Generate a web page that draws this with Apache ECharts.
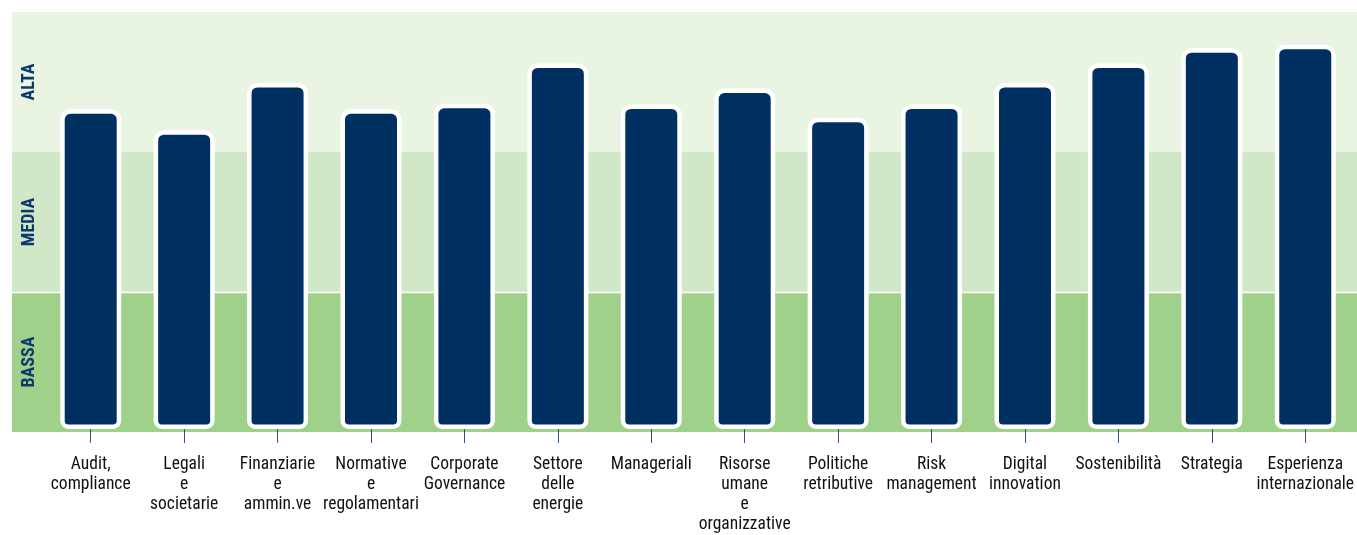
<!DOCTYPE html>
<html>
<head>
<meta charset="utf-8">
<script src="https://cdn.jsdelivr.net/npm/echarts@6/dist/echarts.min.js"></script>
<style>
  html, body { margin: 0; padding: 0; background: #fff; }
  #chart { width: 1357px; height: 535px; }
</style>
</head>
<body>
<div id="chart"></div>
<script>
// categorie (etichette asse x)
const categories = [
  'Audit,\ncompliance',
  'Legali\ne\nsocietarie',
  'Finanziarie\ne\nammin.ve',
  'Normative\ne\nregolamentari',
  'Corporate\nGovernance',
  'Settore\ndelle\nenergie',
  'Manageriali',
  'Risorse\numane\ne\norganizzative',
  'Politiche\nretributive',
  'Risk\nmanagement',
  'Digital\ninnovation',
  'Sostenibilità',
  'Strategia',
  'Esperienza\ninternazionale'
]
// livello (scala 0-3)
const levels = [2.30, 2.15, 2.49, 2.30, 2.34, 2.63, 2.335, 2.45, 2.24, 2.335, 2.49, 2.63, 2.74, 2.765]
// fasce
const bands = ['BASSA', 'MEDIA', 'ALTA']

const labelFont = "'Liberation Sans Narrow', 'Roboto Condensed', 'DejaVu Sans Condensed', sans-serif"

const chart = echarts.init(document.getElementById('chart'))
chart.setOption({
  animation: false,
  grid: [
    // sfondo a fasce
    { left: 12, right: 0, top: 12, bottom: 103 },
    // barre
    { left: 44, right: 3, top: 12, bottom: 100.5 }
  ],
  xAxis: [
    { gridIndex: 0, type: 'value', min: 0, max: 1, show: false },
    {
      gridIndex: 1,
      type: 'category',
      data: categories,
      axisLine: { show: false },
      axisTick: {
        show: true,
        alignWithLabel: true,
        length: 14,
        lineStyle: { color: '#2f5486', width: 1 }
      },
      axisLabel: {
        interval: 0,
        margin: 26,
        fontFamily: labelFont,
        fontSize: 17.5,
        lineHeight: 20,
        color: '#111111'
      }
    }
  ],
  yAxis: [
    {
      gridIndex: 0,
      type: 'category',
      data: bands,
      axisLine: { show: false },
      axisTick: { show: false },
      axisLabel: {
        inside: true,
        rotate: 90,
        margin: 8,
        fontFamily: labelFont,
        fontWeight: 'bold',
        fontSize: 18,
        color: '#0d3a6c'
      },
      splitArea: {
        show: true,
        areaStyle: { color: ['#9fd18a', '#d0e8c8', '#e9f4e3'] }
      },
      splitLine: {
        show: true,
        lineStyle: {
          color: ['rgba(0,0,0,0)', '#ffffff', 'rgba(0,0,0,0)', 'rgba(0,0,0,0)'],
          width: 1.3
        }
      }
    },
    { gridIndex: 1, type: 'value', min: 0, max: 3, show: false }
  ],
  series: [
    {
      type: 'bar',
      xAxisIndex: 1,
      yAxisIndex: 1,
      data: levels,
      barWidth: 61,
      itemStyle: {
        color: '#002f62',
        borderColor: '#ffffff',
        borderWidth: 4.5,
        borderRadius: [8, 8, 6, 6]
      }
    }
  ]
})
</script>
</body>
</html>
